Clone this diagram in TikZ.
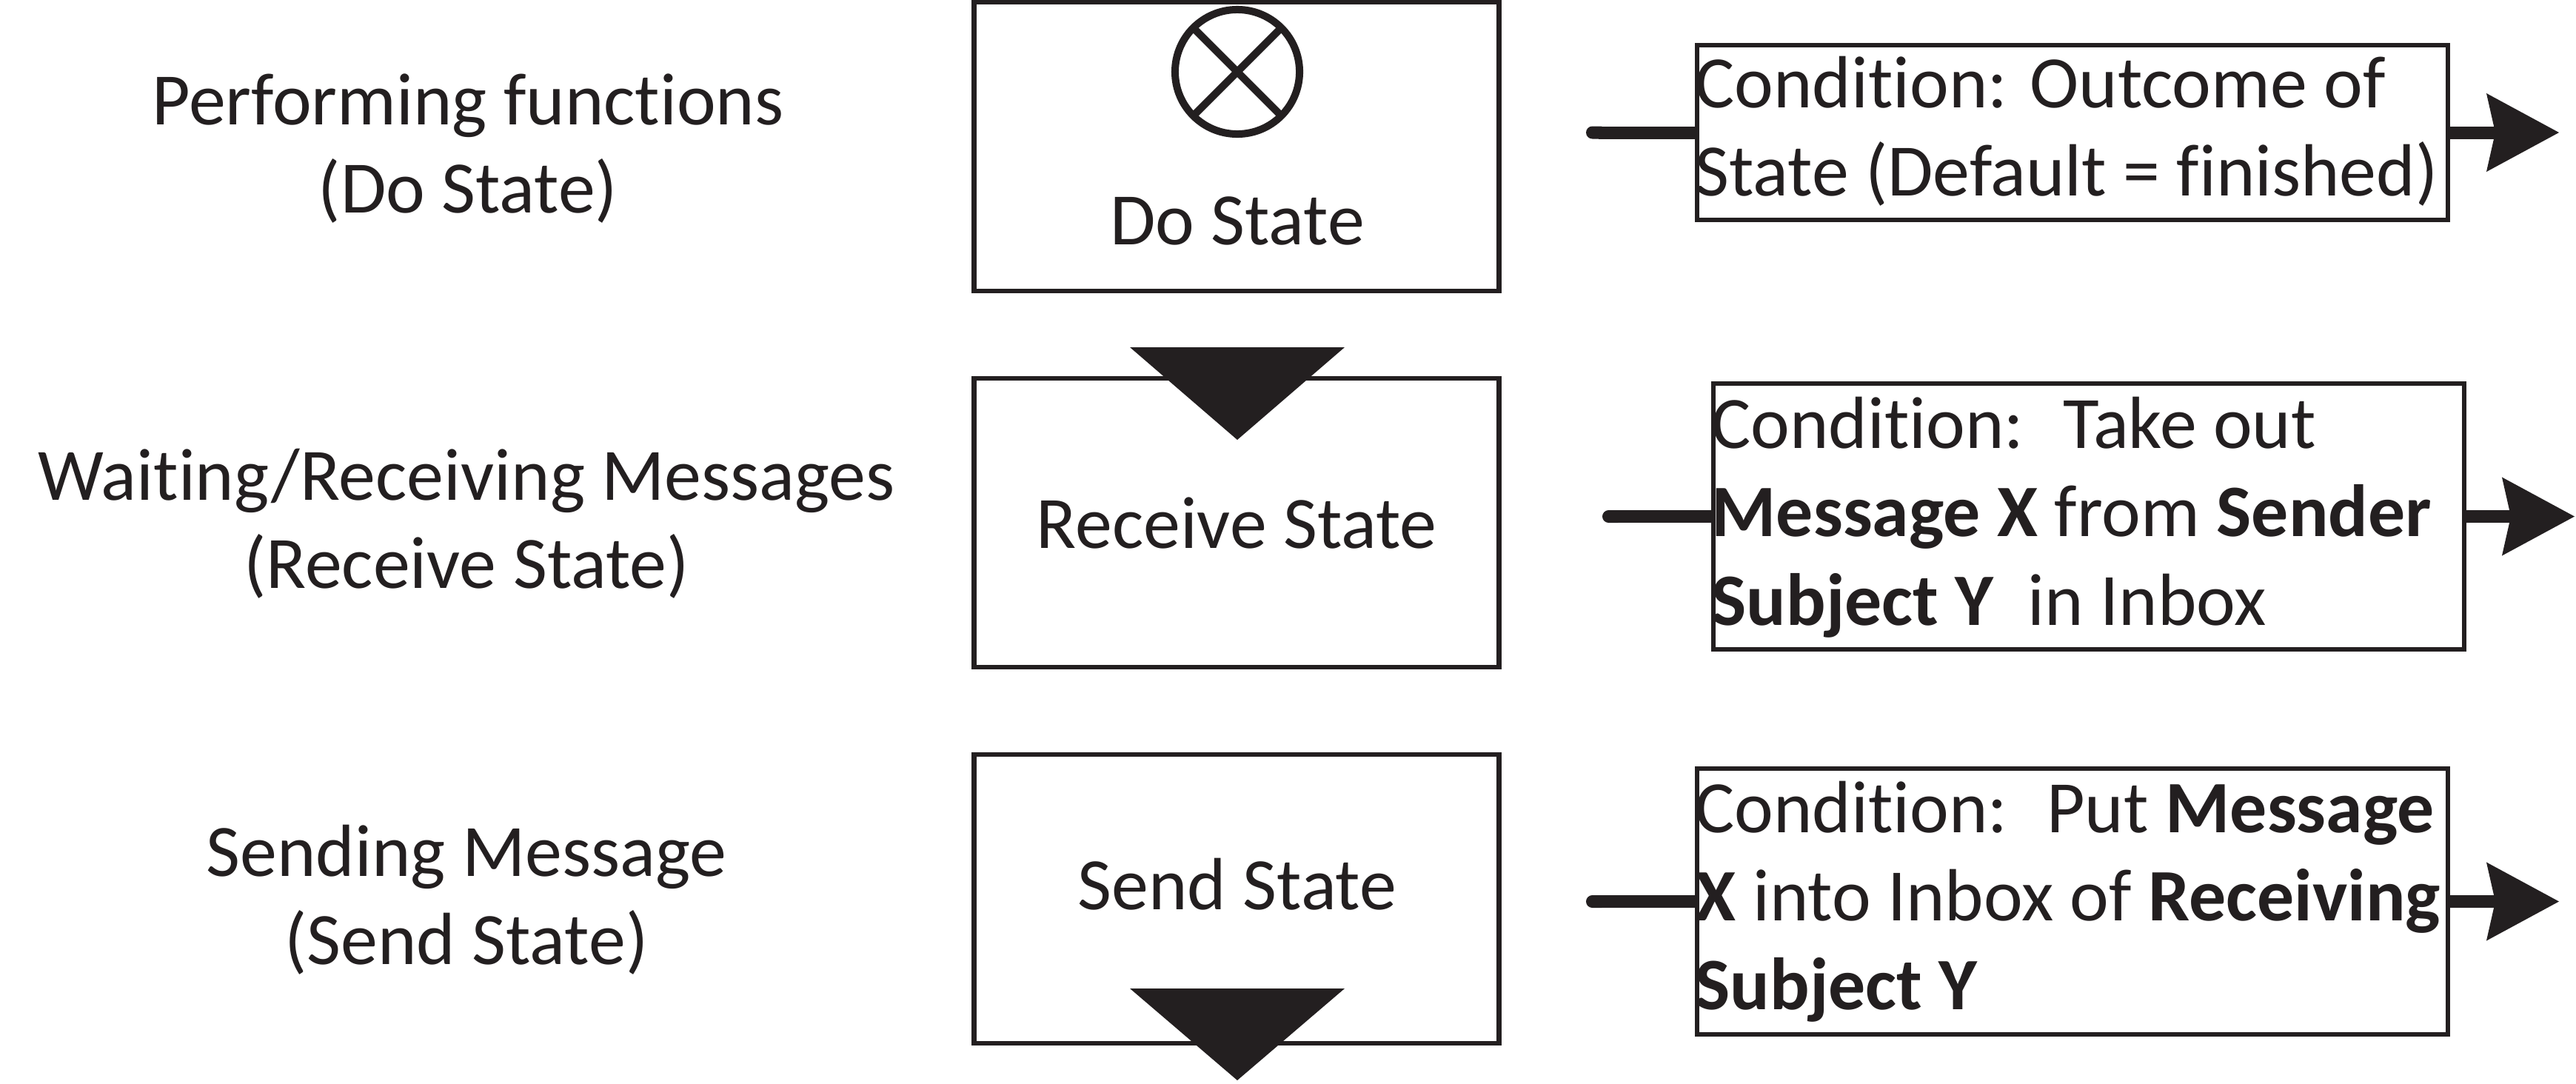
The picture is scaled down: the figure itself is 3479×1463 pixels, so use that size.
\documentclass[tikz,border=0pt]{standalone}
\usepackage{fontspec}
\setmainfont{Carlito}[Ligatures=NoCommon]
\usepackage{tikz}
\usetikzlibrary{arrows.meta,positioning}
\definecolor{ink}{RGB}{35,31,32}

\begin{document}
\begin{tikzpicture}[x=0.01cm, y=-0.01cm,
        every node/.style={text=ink},
        bigfont/.style={font=\fontsize{28.4}{34}\selectfont},
        statebox/.style={draw=ink, line width=0.065cm, minimum width=7.09cm, minimum height=3.9cm, inner sep=0pt},
        statetext/.style={bigfont, inner sep=0pt},
        sidelabel/.style={bigfont, align=center, anchor=north, inner sep=0pt},
        condbox/.style={draw=ink, line width=0.065cm, minimum width=10.13cm, inner sep=0pt},
        condtext/.style={bigfont, align=left, inner sep=0pt},
        flow/.style={draw=ink, line width=0.17cm, {Round Cap[]}-},
        flowarrow/.style={draw=ink, line width=0.17cm, -{Stealth[length=0.98cm, width=1.06cm, inset=0.12cm, line width=0pt]}},
        marker/.style={fill=ink}]
        \useasboundingbox (0,0) rectangle (3479,1463);

        % Left column
        \node[sidelabel] (dolabel) at (632,84) {\strut Performing functions\\(Do State)};
        \node[sidelabel] (recvlabel) at (630,591) {\strut Waiting/Receiving Messages\\(Receive State)};
        \node[sidelabel] (sendlabel) at (630,1099) {\strut Sending Message\\(Send State)};

        % States
        \node[statebox] (do) at (1670,198) {};
        \node[draw=ink, circle, line width=0.1cm, minimum size=1.68cm, inner sep=0pt, outer sep=0pt] (doicon) at (1671,97) {};
        \draw[draw=ink, line width=0.1cm] (doicon.north west) -- (doicon.south east);
        \draw[draw=ink, line width=0.1cm] (doicon.north east) -- (doicon.south west);
        \node[statetext] (dotext) at (1671,298) {Do State};

        \node[statebox] (recv) at (1670,706) {};
        \node[statetext] (recvtext) at (recv.center) {Receive State};
        \fill[marker] (1526,469) -- (1816,469) -- (1671,594) -- cycle;

        \node[statebox] (send) at (1670,1214) {};
        \node[statetext] (sendtext) at (1671,1194) {Send State};
        \fill[marker] (1526,1335) -- (1816,1335) -- (1671,1459) -- cycle;

        % Conditions
        \node[condbox, minimum height=2.36cm] (cond1) at (2799,179) {};
        \node[condtext, below right=0.03cm and 0cm of cond1.north west] (cond1txt)
            {\strut Condition: Outcome of\\State (Default = finished)};

        \node[condbox, minimum height=3.59cm] (cond2) at (2821,697.5) {};
        \node[condtext, below right=0.06cm and 0cm of cond2.north west] (cond2txt)
            {\strut Condition: ~Take out\\\textbf{Message X} from \textbf{Sender}\\\textbf{Subject Y} ~in Inbox};

        \node[condbox, minimum height=3.59cm] (cond3) at (2799,1217.5) {};
        \node[condtext, below right=0.05cm and 0cm of cond3.north west] (cond3txt)
            {\strut Condition: ~Put \textbf{Message}\\\textbf{X} into Inbox of \textbf{Receiving}\\\textbf{Subject Y}};

        % Transitions
        \coordinate (in1) at (2142,179);
        \coordinate (out1) at (3456,179);
        \coordinate (in2) at (2164,697.5);
        \coordinate (out2) at (3477,697.5);
        \coordinate (in3) at (2142,1217.5);
        \coordinate (out3) at (3456,1217.5);
        \draw[flow] (in1) -- (cond1.west);
        \draw[flowarrow] (cond1.east) -- (out1);
        \draw[flow] (in2) -- (cond2.west);
        \draw[flowarrow] (cond2.east) -- (out2);
        \draw[flow] (in3) -- (cond3.west);
        \draw[flowarrow] (cond3.east) -- (out3);
\end{tikzpicture}
\end{document}
